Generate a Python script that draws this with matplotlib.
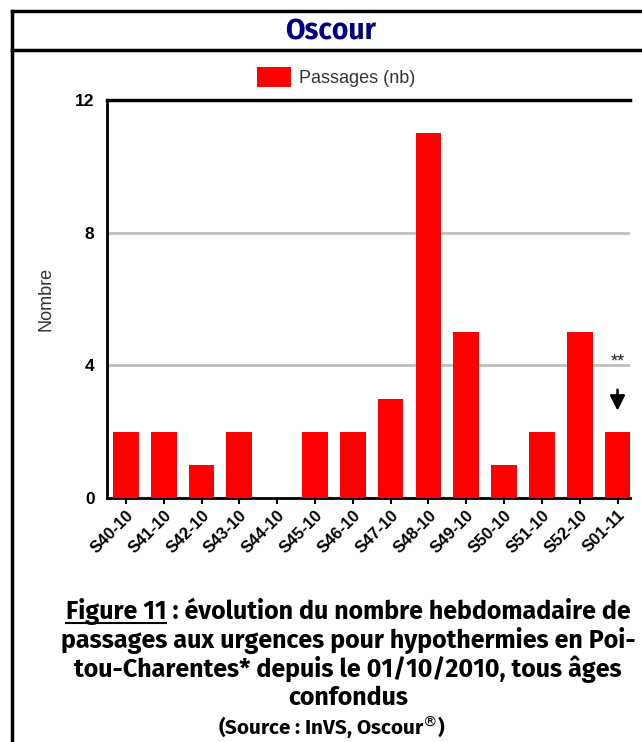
"""Oscour weekly hypothermia ER visits, Poitou-Charentes."""

import matplotlib

matplotlib.use("Agg")
import matplotlib.pyplot as plt
from matplotlib.lines import Line2D

WEEKS = ["S40-10", "S41-10", "S42-10", "S43-10", "S44-10", "S45-10", "S46-10",
         "S47-10", "S48-10", "S49-10", "S50-10", "S51-10", "S52-10", "S01-11"]
PASSAGES = [2, 2, 1, 2, 0, 2, 2, 3, 11, 5, 1, 2, 5, 2]
Y_TICKS = [0, 4, 8, 12]

W, H = 642, 742
HUMANIST = ["Fira Sans", "PT Sans", "DejaVu Sans"]
ARIAL = ["Liberation Sans", "DejaVu Sans"]


def fx(px):
    return px / W


def fy(py):
    return 1 - py / H


def fit_text(fig, renderer, xc, yb, s, target_w, **kw):
    """Place centred text on a baseline, sized so it spans target_w pixels."""
    t = fig.text(fx(xc), fy(yb), s, fontsize=16, ha="center", va="baseline", **kw)
    w = t.get_window_extent(renderer).width
    t.set_fontsize(16 * target_w / w)
    return t


fig = plt.figure(figsize=(W / 100, H / 100), dpi=100)
fig.patch.set_facecolor("white")
renderer = fig.canvas.get_renderer()

# outer frame
for xs, ys in [((12, 12), (11, H)), ((12, W), (11, 11)), ((12, W), (50, 50))]:
    fig.add_artist(Line2D([fx(x) for x in xs], [fy(y) for y in ys],
                          color="black", lw=2.5, transform=fig.transFigure))

fit_text(fig, renderer, 331, 39, "Oscour", 91, color="#000080", fontweight="bold",
         family=HUMANIST)

ax = fig.add_axes([fx(107), fy(498), fx(630 - 107), (498 - 100) / H])
x = list(range(len(WEEKS)))
ax.bar(x, PASSAGES, width=0.68, color="#ff0000", zorder=3, label="Passages (nb)")
ax.set_xlim(-0.5, 13.33)
ax.set_ylim(0, 12)
ax.set_yticks(Y_TICKS)
ax.set_yticklabels([str(v) for v in Y_TICKS], fontsize=12.5, fontweight="bold", family=ARIAL)
ax.tick_params(axis="y", length=0, pad=9)
ax.set_xticks(x)
ax.set_xticklabels(WEEKS, rotation=45, ha="right", va="top", rotation_mode="anchor",
                   fontsize=12, fontweight="bold", family=ARIAL)
ax.tick_params(axis="x", length=4, width=1.5, direction="out", pad=3)
for v in (4, 8):
    ax.axhline(v, color="#c0c0c0", lw=2, zorder=1)
ax.spines["right"].set_visible(False)
for side in ("left", "bottom", "top"):
    ax.spines[side].set_linewidth(2)
    ax.spines[side].set_color("black")
ax.spines["top"].set_linewidth(2.5)
ax.set_ylabel("Nombre", fontsize=13, color="#333333", family=ARIAL, labelpad=15)

ax.text(13, 3.85, "**", ha="center", va="bottom", fontsize=13, color="#222222", family=ARIAL)
ax.annotate("", xy=(13, 2.55), xytext=(13, 3.35),
            arrowprops=dict(arrowstyle="-|>,head_width=0.45,head_length=0.9",
                            color="black", lw=1.8))

ax.legend(loc="center", bbox_to_anchor=(0.438, 1.058), frameon=False,
          prop={"family": ARIAL, "size": 13}, labelcolor="#333333",
          handlelength=1.85, handleheight=1.3, handletextpad=0.45)

caption = [
    "Figure 11 : évolution du nombre hebdomadaire de",
    "passages aux urgences pour hypothermies en Poi-",
    "tou-Charentes* depuis le 01/10/2010, tous âges",
    "confondus",
]
baselines = [619, 648, 677, 705]
first = fit_text(fig, renderer, 348, baselines[0], caption[0], 567,
                 fontweight="bold", family=HUMANIST)
size = first.get_fontsize()
for txt, yb in zip(caption[1:], baselines[1:]):
    fig.text(fx(348), fy(yb), txt, fontsize=size, fontweight="bold",
             family=HUMANIST, ha="center", va="baseline")
fit_text(fig, renderer, 332, 735, r"(Source : InVS, Oscour$^{\circledR}$)", 228,
         fontweight="bold", family=HUMANIST)

# underline "Figure 11"
full = first.get_window_extent(renderer)
probe = fig.text(0, 0, "Figure 11", fontsize=size, fontweight="bold", family=HUMANIST)
pw = probe.get_window_extent(renderer).width
probe.remove()
uy = H - 623
fig.add_artist(Line2D([full.x0 / W, (full.x0 + pw) / W], [uy / H, uy / H],
                      color="black", lw=1.5, transform=fig.transFigure))

fig.savefig("out.png", dpi=100)
